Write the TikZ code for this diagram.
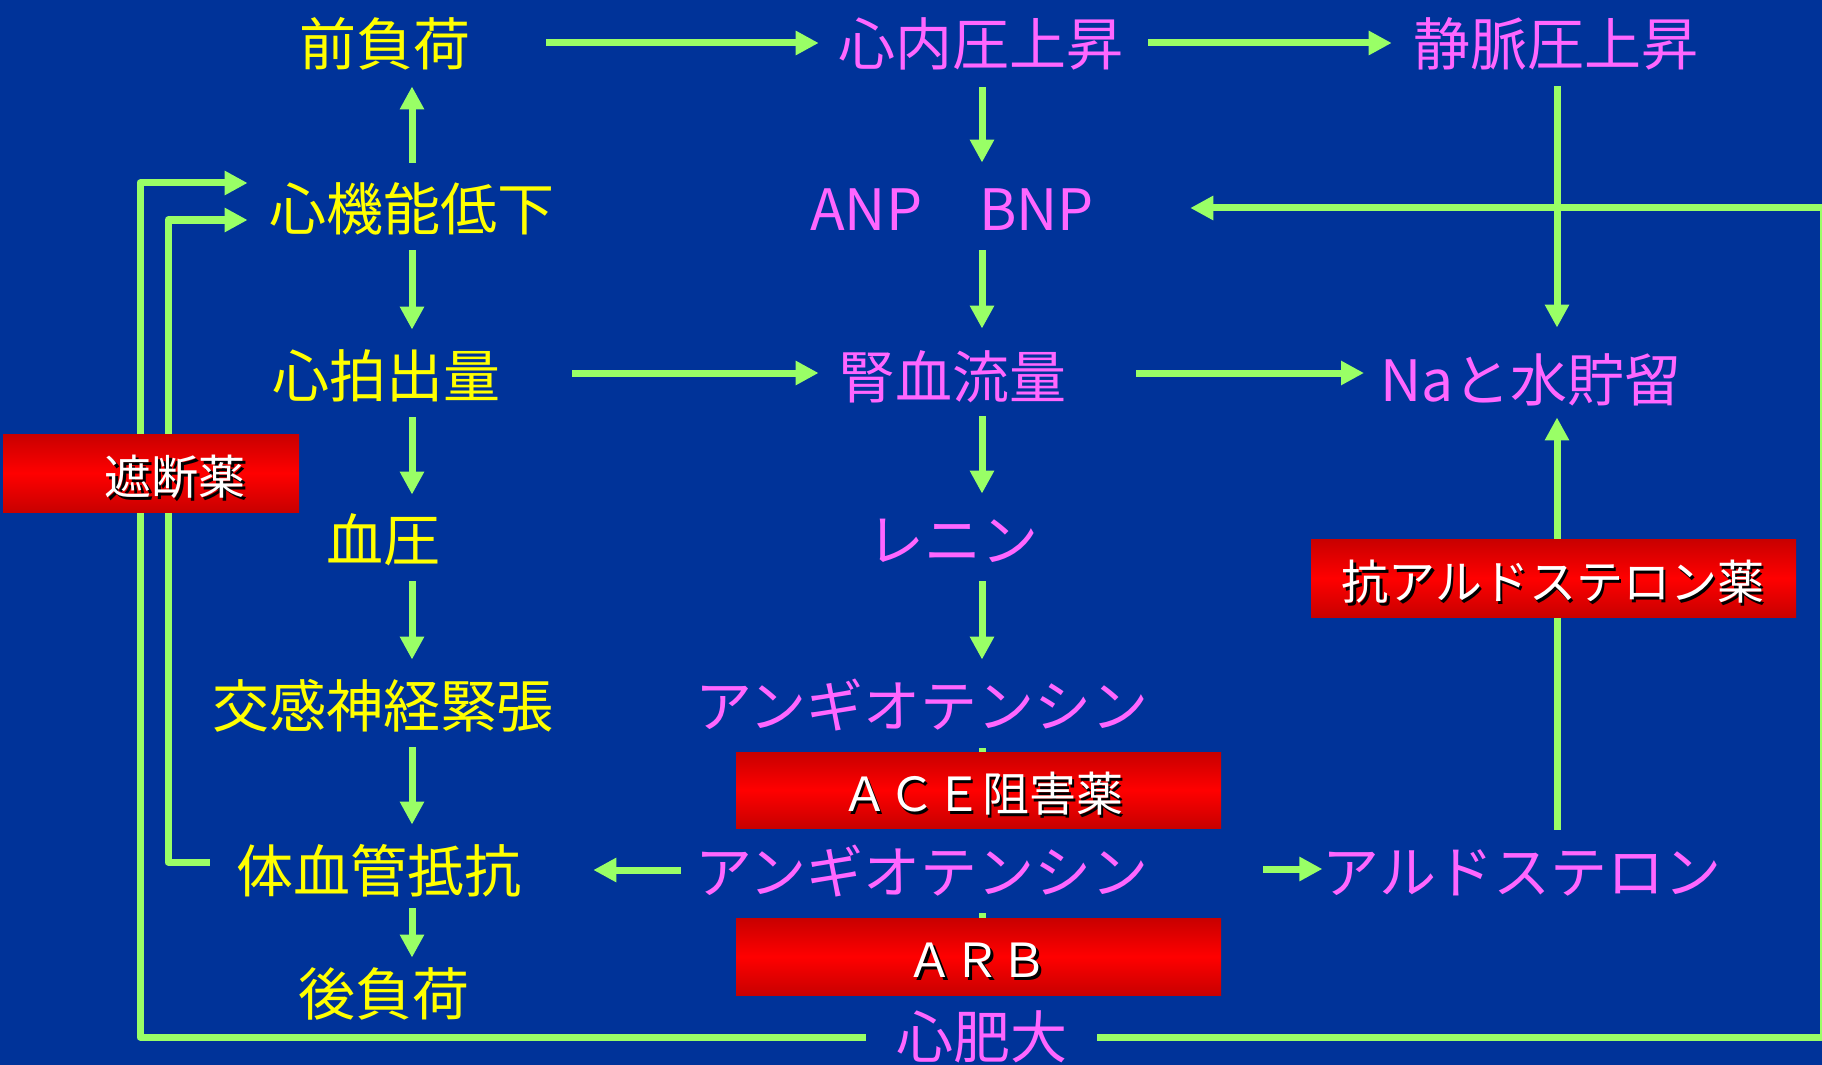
\documentclass[tikz,border=0pt]{standalone}
\usepackage{fontspec}
\setmainfont{Noto Sans CJK JP}
\usetikzlibrary{arrows.meta}
\definecolor{bg}{RGB}{0,51,153}
\definecolor{grn}{RGB}{153,255,102}
\definecolor{yel}{RGB}{255,255,0}
\definecolor{pnk}{RGB}{255,102,255}
\definecolor{rdark}{RGB}{200,0,0}
\definecolor{rmid}{RGB}{255,0,0}
\newcommand\shtxt[1]{\rlap{\kern1.3pt\raisebox{-1.3pt}{\textcolor{black}{#1}}}\textcolor{white}{#1}}
\begin{document}
\begin{tikzpicture}[x=0.5pt,y=-0.5pt,
  lbl/.style={inner sep=0pt, text height=23.6pt, text depth=2pt, font=\fontsize{28.5pt}{30pt}\selectfont},
  ylbl/.style={lbl, text=yel},
  plbl/.style={lbl, text=pnk},
  redbox/.style={inner sep=0pt, draw=none, top color=rdark, bottom color=rdark, middle color=rmid},
  btxt/.style={inner sep=0pt, text height=19.5pt, text depth=1.6pt, font=\fontsize{23.5pt}{25pt}\selectfont},
  conn/.style={draw=grn, line width=3.5pt, line join=round},
  arr/.style={conn, -{Triangle[length=11.5pt,width=11.5pt]}},
]
\useasboundingbox (0,0) rectangle (1822,1065);
\fill[bg] (0,0) rectangle (1822,1065);

% left column
\node[ylbl] (pre) at (385,44) {前負荷};
\node[ylbl] (kino) at (412,209) {心機能低下};
\node[ylbl] (hak) at (386,376) {心拍出量};
\node[ylbl] (ket) at (383,540) {血圧};
\node[ylbl] (kok) at (383,706) {交感神経緊張};
\node[ylbl] (tai) at (379,871) {体血管抵抗};
\node[ylbl] (ko) at (384,994) {後負荷};

% middle column
\node[plbl] (nai) at (981,44) {心内圧上昇};
\node[plbl] (anp) at (952,209) {ANP　BNP};
\node[plbl] (jin) at (952,377) {腎血流量};
\node[plbl] (ren) at (953,540) {レニン};
\node[plbl] (ang1) at (922,706) {アンギオテンシン};
\node[plbl] (ang2) at (922,872) {アンギオテンシン};
\node[plbl] (hid) at (982,1037) {心肥大};

% right column
\node[plbl] (jom) at (1556,44) {静脈圧上昇};
\node[plbl, anchor=west] (na) at (1380,380) {Naと水貯留};
\node[plbl] (ald) at (1522,872) {アルドステロン};

% left column arrows
\draw[arr, shorten <=10.2pt, shorten >=8.2pt] (kino.north) -- (pre.south -| kino.north);
\draw[arr, shorten <=7.7pt, shorten >=10.2pt] (kino.south) -- (hak.north -| kino.south);
\draw[arr, shorten <=7.7pt, shorten >=9.7pt] (hak.south -| kino.south) -- (ket.north -| kino.south);
\draw[arr, shorten <=7.7pt, shorten >=10.2pt] (ket.south -| kino.south) -- (kok.north -| kino.south);
\draw[arr, shorten <=7.7pt, shorten >=10.2pt] (kok.south -| kino.south) -- (tai.north -| kino.south);
\draw[arr, shorten <=5.7pt, shorten >=5.2pt] (tai.south -| kino.south) -- (ko.north -| kino.south);

% middle column arrows
\draw[arr, shorten <=8.7pt, shorten >=10.2pt] (nai.south -| 982,0) -- (anp.north -| 982,0);
\draw[arr, shorten <=7.7pt, shorten >=11.2pt] (anp.south -| 982,0) -- (jin.north -| 982,0);
\draw[arr, shorten <=6.7pt, shorten >=10.2pt] (jin.south -| 982,0) -- (ren.north -| 982,0);
\draw[arr, shorten <=7.7pt, shorten >=10.2pt] (ren.south -| 982,0) -- (ang1.north -| 982,0);
\draw[arr, shorten <=8.2pt, shorten >=15.7pt] (ang1.south -| 982,0) -- (ang2.north -| 982,0);
\draw[arr, shorten <=7.7pt, shorten >=18pt] (ang2.south -| 982,0) -- (hid.north -| 982,0);

% right column arrows
\draw[arr, shorten <=8.2pt, shorten >=13.2pt] (jom.south -| 1557,0) -- (na.north -| 1557,0);
\draw[arr, shorten <=8.2pt, shorten >=5.7pt] (ald.north -| 1557,0) -- (na.south -| 1557,0);

% horizontal arrows
\draw[arr, shorten <=37.7pt, shorten >=9.7pt] (pre.east |- 0,43) -- (nai.west |- 0,43);
\draw[arr, shorten <=12.2pt, shorten >=10.7pt] (nai.east |- 0,43) -- (jom.west |- 0,43);
\draw[arr, shorten <=36pt, shorten >=9.5pt] (hak.east |- 0,373) -- (jin.west |- 0,373);
\draw[arr, shorten <=35pt, shorten >=8pt] (jin.east |- 0,373) -- (na.west |- 0,373);
\draw[arr, shorten <=7pt, shorten >=35.7pt] (ang2.west |- 0,870) -- (tai.east |- 0,870);
\draw[arr, shorten <=57pt, shorten >=0pt] (ang2.east |- 0,869) -- (ald.west |- 0,869);

% feedback loops
\draw[arr, shorten >=10.75pt] ([xshift=-15.25pt]hid.west) -- (140,1037) -- (140,183) -- (kino.west |- 140,183);
\draw[arr, shorten >=10.75pt] ([xshift=-13.25pt,yshift=4.5pt]tai.west) -- (168,862) -- (168,220) -- (kino.west |- 168,220);
\draw[arr, shorten >=48pt] ([xshift=14.75pt]hid.east) -- (1823,1037) -- (1823,208) -- (anp.east |- 1823,208);

% red boxes
\node[redbox, minimum width=148pt, minimum height=39pt] (shadanbox) at (151,473) {};
\node[btxt] (shadan) at (175,477) {\shtxt{遮断薬}};
\node[redbox, minimum width=242.5pt, minimum height=38pt] (acebox) at (978.5,790) {};
\node[btxt] (ace) at (982,794) {\shtxt{ＡＣＥ阻害薬}};
\node[redbox, minimum width=242.5pt, minimum height=38.5pt] (arbbox) at (978.5,956.5) {};
\node[btxt] (arb) at (977,960) {\shtxt{ＡＲＢ}};
\node[redbox, minimum width=242.5pt, minimum height=39pt] (antibox) at (1553.5,578) {};
\node[btxt] (anti) at (1553,582) {\shtxt{抗アルドステロン薬}};
\end{tikzpicture}
\end{document}
